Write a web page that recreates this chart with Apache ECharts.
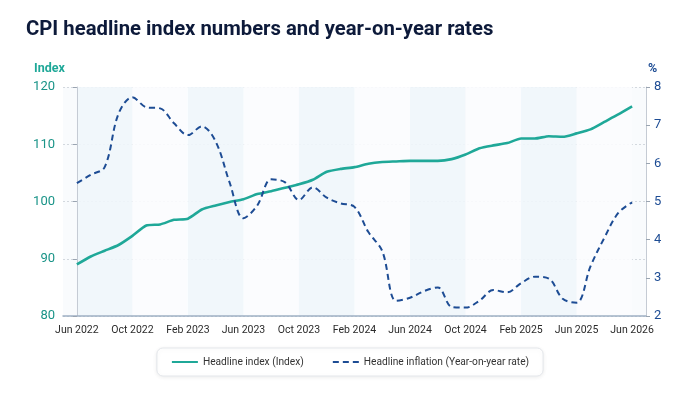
<!DOCTYPE html>
<html>
<head>
<meta charset="utf-8">
<script src="https://cdn.jsdelivr.net/npm/echarts@6/dist/echarts.min.js"></script>
<style>
html,body{margin:0;padding:0;background:#ffffff;}
#c{width:700px;height:394px;}
</style>
</head>
<body>
<div id="c"></div>
<script>
const months = ['Jun 2022','Jul 2022','Aug 2022','Sep 2022','Oct 2022','Nov 2022','Dec 2022','Jan 2023','Feb 2023','Mar 2023','Apr 2023','May 2023','Jun 2023','Jul 2023','Aug 2023','Sep 2023','Oct 2023','Nov 2023','Dec 2023','Jan 2024','Feb 2024','Mar 2024','Apr 2024','May 2024','Jun 2024','Jul 2024','Aug 2024','Sep 2024','Oct 2024','Nov 2024','Dec 2024','Jan 2025','Feb 2025','Mar 2025','Apr 2025','May 2025','Jun 2025','Jul 2025','Aug 2025','Sep 2025','Oct 2025'];
const headlineIndex = [89.0,90.4,91.4,92.4,94.0,95.8,96.0,96.8,97.0,98.6,99.3,99.9,100.4,101.3,101.8,102.4,103.0,103.8,105.2,105.7,106.0,106.6,106.9,107.0,107.1,107.1,107.1,107.4,108.2,109.3,109.8,110.2,111.0,111.0,111.4,111.3,111.9,112.6,113.9,115.2,116.6];
const headlineInflation = [5.48,5.70,5.90,7.30,7.73,7.47,7.44,7.05,6.74,6.97,6.57,5.50,4.56,4.90,5.58,5.50,5.04,5.37,5.10,4.95,4.86,4.20,3.70,2.40,2.48,2.65,2.75,2.24,2.22,2.40,2.68,2.62,2.86,3.03,2.98,2.45,2.35,3.30,4.05,4.70,4.98];
const tickPositions = [0,4,8,12,16,20,24,28,32,36,40];
const tickLabels = ['Jun 2022','Oct 2022','Feb 2023','Jun 2023','Oct 2023','Feb 2024','Jun 2024','Oct 2024','Feb 2025','Jun 2025','Jun 2026'];

const chart = echarts.init(document.getElementById('c'), null, {renderer:'canvas'});
const teal = '#1fa898';
const navy = '#1d4c94';
const font = 'Roboto';
chart.setOption({
  animation:false,
  backgroundColor:'#ffffff',
  title:{
    text:'CPI headline index numbers and year-on-year rates',
    left:21, top:15,
    textStyle:{fontFamily:font, fontSize:20.3, fontWeight:'bold', color:'#0d1a3a'}
  },
  grid:{left:63, right:54, top:87, bottom:78, show:true, backgroundColor:'#f9fbfd', borderWidth:0},
  legend:{
    bottom:18, left:'center',
    backgroundColor:'#ffffff', borderColor:'#e4e7eb', borderWidth:1, borderRadius:6,
    shadowColor:'rgba(0,0,0,0.07)', shadowBlur:4, shadowOffsetY:1,
    padding:[9,14], itemGap:28, itemWidth:26, itemHeight:12,
    itemStyle:{opacity:0},
    textStyle:{fontFamily:font, fontSize:10.2, color:'#333'},
    data:['Headline index (Index)','Headline inflation (Year-on-year rate)']
  },
  xAxis:{
    type:'value', min:-1, max:41,
    axisLine:{show:true, lineStyle:{color:'#9fb0c4', width:1.5}},
    axisTick:{show:false, customValues:tickPositions},
    axisLabel:{customValues:tickPositions, margin:9, fontFamily:font, fontSize:10.5, color:'#2b2b2b',
      formatter:function(v){const k=tickPositions.indexOf(Math.round(v)); return k>=0?tickLabels[k]:'';}},
    splitLine:{show:false},
    splitArea:{show:true, areaStyle:{color:['rgba(240,246,251,0.9)','rgba(251,252,254,0.9)']}}
  },
  yAxis:[{
    type:'value', min:80, max:120, interval:10, position:'left',
    name:'Index', nameLocation:'end', nameGap:12,
    nameTextStyle:{fontFamily:font, fontSize:12.5, fontWeight:'bold', color:teal, align:'right', padding:[0,12,0,0]},
    axisLine:{show:true, lineStyle:{color:'#c5cbd4'}},
    axisTick:{show:true, length:4, lineStyle:{color:'#9aa4b1'}},
    axisLabel:{fontFamily:font, fontSize:13, color:'#1a9488', margin:8},
    splitLine:{show:true, lineStyle:{color:'#d3d8de', type:[2,2]}}
  },{
    type:'value', min:2, max:8, interval:1, position:'right',
    name:'%', nameLocation:'end', nameGap:12,
    nameTextStyle:{fontFamily:font, fontSize:12.5, fontWeight:'bold', color:navy, align:'left', padding:[0,0,0,2]},
    axisLine:{show:true, lineStyle:{color:'#c5cbd4'}},
    axisTick:{show:true, length:4, lineStyle:{color:'#9aa4b1'}},
    axisLabel:{fontFamily:font, fontSize:13, color:navy, margin:8},
    splitLine:{show:false}
  }],
  series:[{
    name:'Headline index (Index)', type:'line', yAxisIndex:0,
    data:headlineIndex.map((v,i)=>[i,v]),
    showSymbol:false, symbol:'none', smooth:0.2,
    lineStyle:{color:teal, width:2.6}, itemStyle:{color:teal}
  },{
    name:'Headline inflation (Year-on-year rate)', type:'line', yAxisIndex:1,
    data:headlineInflation.map((v,i)=>[i,v]),
    showSymbol:false, symbol:'none', smooth:0.35,
    lineStyle:{color:navy, width:2, type:[6,4]}, itemStyle:{color:navy}
  }]
});
</script>
</body>
</html>
